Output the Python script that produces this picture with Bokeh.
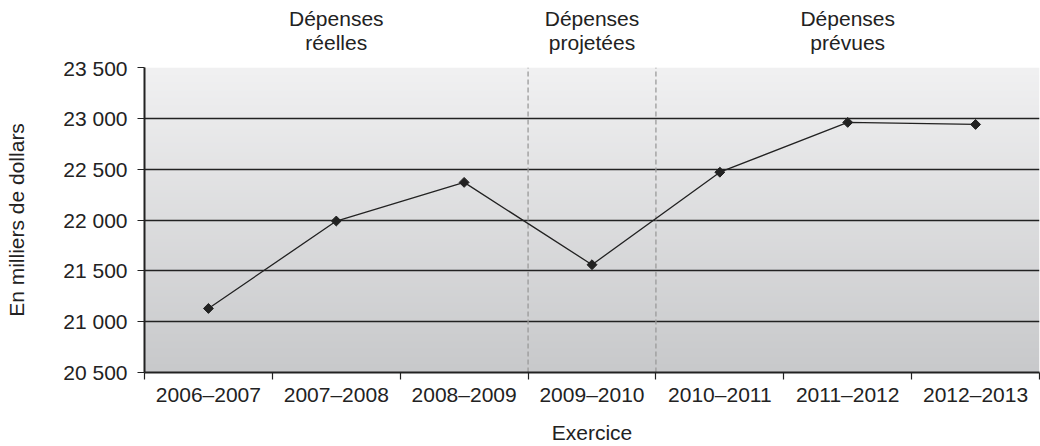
import numpy as np
from bokeh.plotting import figure
from bokeh.layouts import column
from bokeh.models import FixedTicker
from bokeh.core.properties import value
from bokeh.embed import file_html
from bokeh.resources import INLINE

# Spending by fiscal year (thousands of dollars)
exercices = ["2006–2007", "2007–2008", "2008–2009", "2009–2010",
             "2010–2011", "2011–2012", "2012–2013"]
depenses = [21130, 21990, 22370, 21560, 22470, 22960, 22940]

y_ticks = [20500, 21000, 21500, 22000, 22500, 23000, 23500]
y_tick_labels = ["20 500", "21 000", "21 500", "22 000", "22 500", "23 000", "23 500"]

# Section headings: (lines, category index they sit over)
sections = [(["Dépenses", "réelles"], 1),
            (["Dépenses", "projetées"], 3),
            (["Dépenses", "prévues"], 5)]
section_breaks = [3, 4]

FONT = "Liberation Sans"
INK = "#222222"
FS = "21px"

W = 1040
HEAD_H = 56
MAIN_H = 446 - HEAD_H
LEFT, RIGHT = 144, 1

n = len(exercices)
xs = [i + 0.5 for i in range(n)]
y0, y1 = y_ticks[0], y_ticks[-1]

# ---- main chart -------------------------------------------------------------
p = figure(width=W, height=MAIN_H, output_backend="svg", toolbar_location=None,
           x_range=(0, n), y_range=(y0, y1),
           min_border_left=LEFT, min_border_right=RIGHT,
           min_border_top=11, min_border_bottom=73)
p.background_fill_color = "white"
p.border_fill_color = "white"
p.outline_line_color = None

# Vertical gradient behind the data
rows = 256
t = np.linspace(0, 1, rows)[:, None]  # 0 = bottom, 1 = top
top = np.array([241, 241, 242])
bot = np.array([200, 201, 203])
rgb = (bot + (top - bot) * t).astype(np.uint32)
img = np.empty((rows, 1), dtype=np.uint32)
view = img.view(dtype=np.uint8).reshape((rows, 1, 4))
view[:, :, 0] = rgb[:, 0:1]
view[:, :, 1] = rgb[:, 1:2]
view[:, :, 2] = rgb[:, 2:3]
view[:, :, 3] = 255
p.image_rgba(image=[img], x=0, y=y0, dw=n, dh=y1 - y0, level="image")

# Axes
p.xaxis.ticker = FixedTicker(ticks=xs, minor_ticks=list(range(n + 1)))
p.xaxis.major_label_overrides = {x: lab for x, lab in zip(xs, exercices)}
p.xaxis.major_tick_out = 0
p.xaxis.major_tick_in = 0
p.xaxis.minor_tick_out = 7
p.xaxis.minor_tick_in = 0
p.xaxis.minor_tick_line_color = INK
p.xaxis.minor_tick_line_width = 1.2
p.xaxis.axis_label = "Exercice"
p.xaxis.axis_label_standoff = 12
p.xaxis.major_label_standoff = 3

p.yaxis.ticker = FixedTicker(ticks=y_ticks)
p.yaxis.major_label_overrides = {v: lab for v, lab in zip(y_ticks, y_tick_labels)}
p.yaxis.major_tick_out = 7
p.yaxis.major_tick_in = 0
p.yaxis.minor_tick_line_color = None
p.yaxis.major_tick_line_width = 1.2
p.yaxis.axis_label = "En milliers de dollars"
p.yaxis.axis_label_standoff = 32
p.yaxis.major_label_standoff = 10

for ax in (p.xaxis, p.yaxis):
    ax.axis_line_color = INK
    ax.axis_line_width = 2
    ax.major_tick_line_color = INK
    ax.major_label_text_font = FONT
    ax.major_label_text_font_size = FS
    ax.major_label_text_color = INK
    ax.axis_label_text_font = FONT
    ax.axis_label_text_font_size = FS
    ax.axis_label_text_font_style = "normal"
    ax.axis_label_text_color = INK

p.xgrid.grid_line_color = None
p.ygrid.ticker = FixedTicker(ticks=y_ticks)
p.ygrid.grid_line_color = INK
p.ygrid.grid_line_width = 1.4

# Section dividers
p.segment(x0=section_breaks, y0=[y0] * len(section_breaks),
          x1=section_breaks, y1=[y1] * len(section_breaks),
          line_color="#9a9a9a", line_width=1.3, line_dash="5 3")

# Spending series
p.line(xs, depenses, line_color=INK, line_width=1.3)
p.scatter(xs, depenses, marker="square", angle=np.pi / 4, size=7,
          fill_color=INK, line_color=INK)

# ---- section headings strip ---------------------------------------------------
h = figure(width=W, height=HEAD_H, output_backend="svg", toolbar_location=None,
           x_range=p.x_range, y_range=(0, HEAD_H),
           min_border_left=LEFT, min_border_right=RIGHT,
           min_border_top=0, min_border_bottom=0)
h.axis.visible = False
h.grid.grid_line_color = None
h.outline_line_color = None
h.background_fill_color = "white"
h.border_fill_color = "white"

hx, hy, ht = [], [], []
for lines, idx in sections:
    for k, txt in enumerate(lines):
        hx.append(idx + 0.5)
        hy.append(HEAD_H - 18 - 24 * k)
        ht.append(txt)
h.text(x=hx, y=hy, text=ht, text_align="center", text_baseline="middle",
       text_font=value(FONT), text_font_size=FS, text_color=INK)

layout = column(h, p, spacing=0)
open("out.html", "w").write(file_html(layout, INLINE))
